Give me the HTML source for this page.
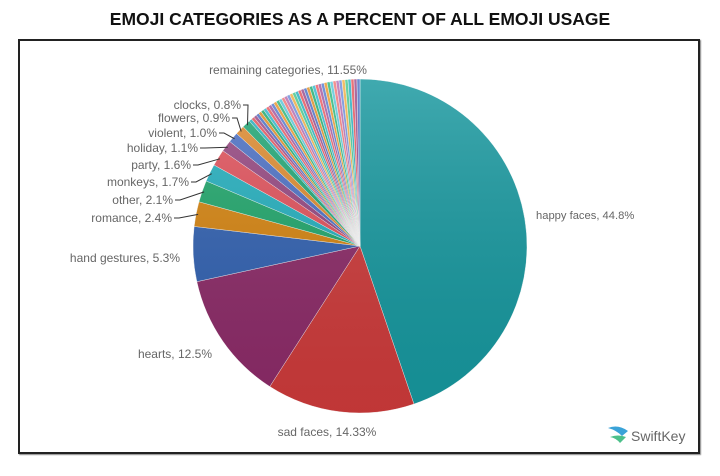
<!DOCTYPE html>
<html><head><meta charset="utf-8"><style>
html,body{margin:0;padding:0;background:#fff;}
body{width:720px;height:476px;position:relative;overflow:hidden;font-family:"Liberation Sans",sans-serif;}
.t{position:absolute;left:0;width:720px;top:9px;text-align:center;font-weight:bold;font-size:17.5px;color:#111;}
.f{position:absolute;left:18px;top:39px;width:678px;height:411px;border:2px solid #222;box-shadow:1px 1px 1px #888;}
</style></head><body>
<div class="t">EMOJI CATEGORIES AS A PERCENT OF ALL EMOJI USAGE</div>
<div class="f"></div>
<svg id="s" width="720" height="476" style="position:absolute;left:0;top:0" font-family="Liberation Sans, sans-serif" font-size="12" fill="#666">
<defs><linearGradient id="g" x1="0" y1="0" x2="0" y2="1"><stop offset="0" stop-color="#fff" stop-opacity="0.18"/><stop offset="1" stop-color="#000" stop-opacity="0.06"/></linearGradient></defs>
<g id="p"></g>
<circle cx="360" cy="246" r="167" fill="url(#g)"/>
<g id="l" stroke="#333" stroke-width="1" fill="none"></g>
<g id="tx"></g>
<text x="288" y="74" text-anchor="middle">remaining categories, 11.55%</text>
<text x="180" y="262" text-anchor="end">hand gestures, 5.3%</text>
<text x="212" y="358" text-anchor="end">hearts, 12.5%</text>
<text x="327" y="436" text-anchor="middle">sad faces, 14.33%</text>
<text x="536" y="219" font-size="11.2">happy faces, 44.8%</text>
<g transform="translate(608,428)">
<path d="M0,0 Q10,-4 20,3 L14,8 Q8,2 0,0Z" fill="#3aa3d8"/>
<path d="M2,9 Q10,6 18,9 L12,15 Q8,10 2,9Z" fill="#4cc08a"/>
<text x="23" y="13" font-size="14" fill="#666">SwiftKey</text>
</g>
</svg>
<script>
var d=[[44.8,"#16979e"],[14.33,"#cc3a3a"],[12.5,"#8b2a67"],[5.3,"#3060b0"],[2.4,"#d4830f"],[2.1,"#1ea56a"],[1.7,"#22aebd"],[1.6,"#e0505a"],[1.1,"#94457f"],[1.0,"#4a6fc4"],[0.9,"#dd8a2e"],[0.8,"#1fa673"]];
var pal=["#2ab2c2","#e5575f","#9b4d8d","#4d72c7","#e08f28","#22ad70","#36b8d0","#ea5f66","#a85aa0","#5a7ed0","#eb9b30","#2eb87c","#5cc8dc","#f07a7a","#b870b4","#7090dc","#f0b048","#48c890"];
var n=40,rem=11.55/n;
for(var i=0;i<n;i++)d.push([rem,pal[i%pal.length]]);
var cx=360,cy=246,r=167,a=0,h="",T=100.08,mids=[];
function P(t,rr){var x=cx+rr*Math.sin(t*2*Math.PI/T),y=cy-rr*Math.cos(t*2*Math.PI/T);return [x,y];}
function pt(t){var p=P(t,r);return p[0].toFixed(2)+","+p[1].toFixed(2);}
d.forEach(function(s){var b=a+s[0];mids.push((a+b)/2);h+='<path d="M'+cx+','+cy+' L'+pt(a)+' A'+r+','+r+' 0 '+(s[0]>50.04?1:0)+',1 '+pt(b)+'Z" fill="'+s[1]+'" stroke="#fff" stroke-width="0.4"/>';a=b;});
document.getElementById("p").innerHTML=h;
var labs=[[4,"romance, 2.4%",172,222],[5,"other, 2.1%",173,204],[6,"monkeys, 1.7%",189,186],[7,"party, 1.6%",191,169],[8,"holiday, 1.1%",198,152],[9,"violent, 1.0%",217,137],[10,"flowers, 0.9%",230,122],[11,"clocks, 0.8%",241,109]];
var lh="",th="";
labs.forEach(function(L){var y=L[3]-4,x0=L[2]+2,p=P(mids[L[0]],r-2);
th+='<text x="'+L[2]+'" y="'+L[3]+'" text-anchor="end">'+L[1]+'</text>';
lh+='<polyline points="'+x0+','+y+' '+(x0+5)+','+y+' '+p[0].toFixed(1)+','+p[1].toFixed(1)+'"/>';});
document.getElementById("l").innerHTML=lh;document.getElementById("tx").innerHTML=th;
</script>
</body></html>
